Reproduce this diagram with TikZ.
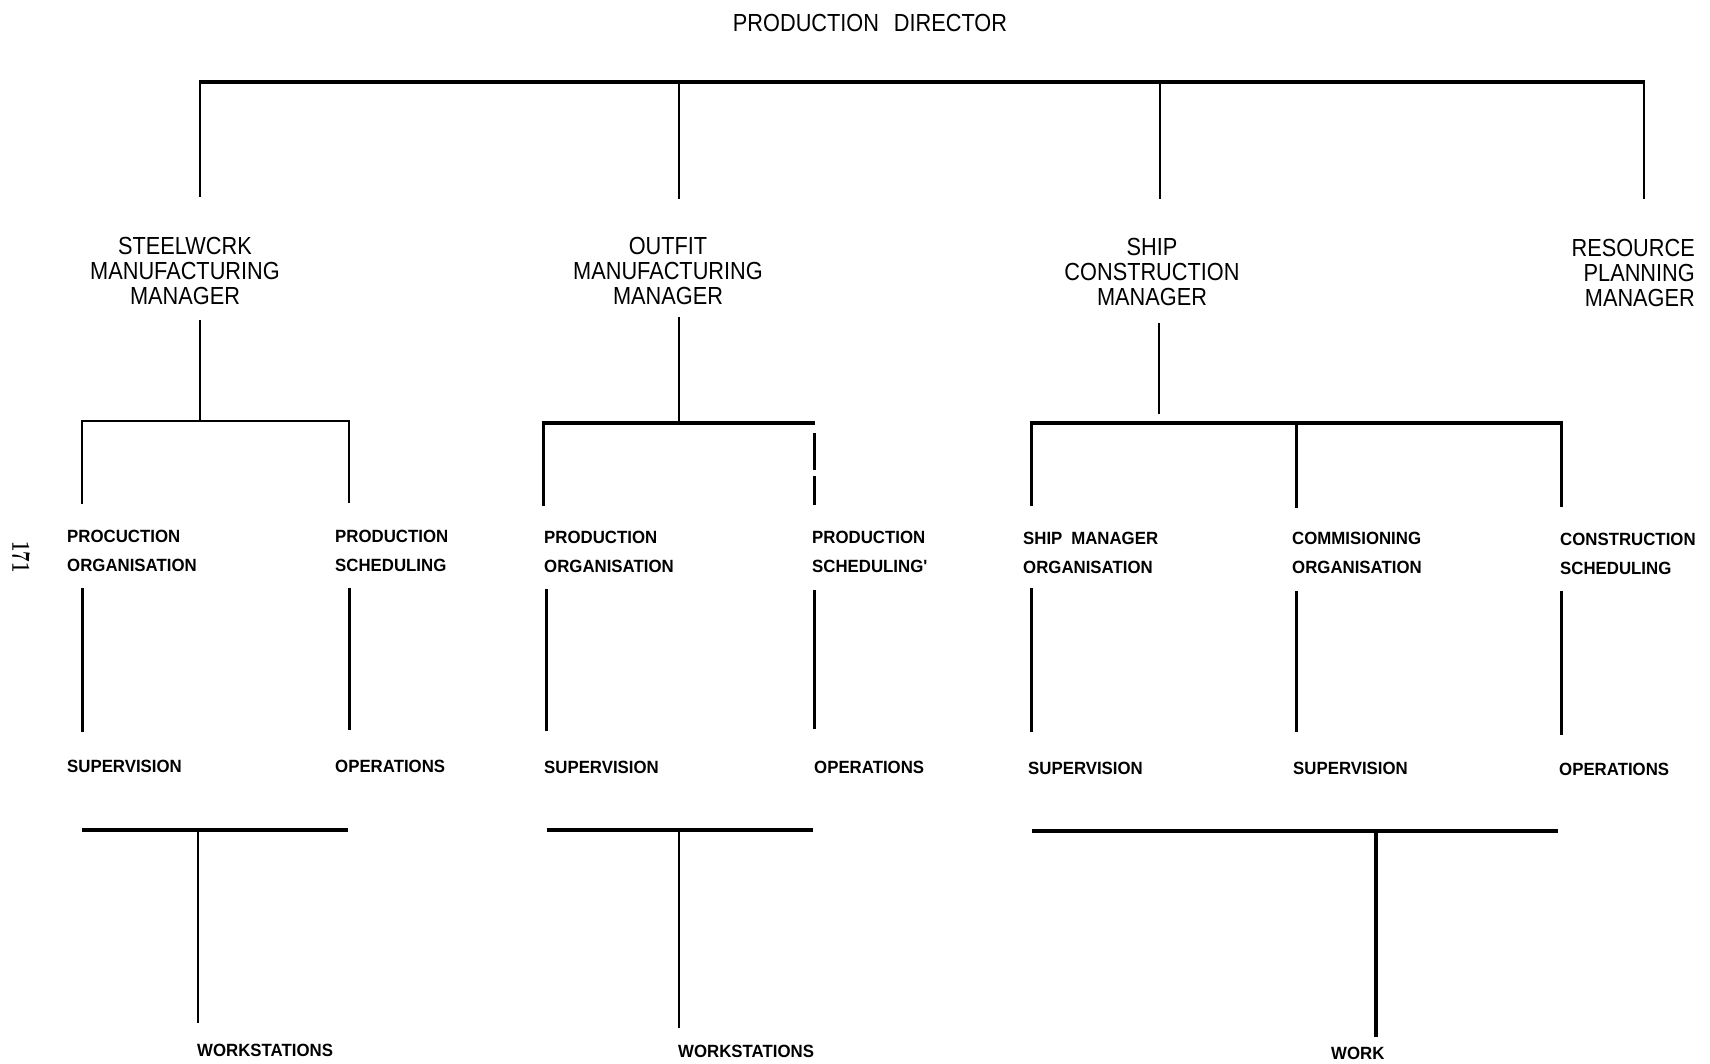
\documentclass[tikz,border=0pt]{standalone}
\usepackage{fontspec}
\newfontfamily\bigfont[FakeStretch=0.88]{Liberation Sans}
\newfontfamily\smallfont[FakeStretch=0.95]{Liberation Sans}
\begin{document}
\begin{tikzpicture}[x=1pt,y=-1pt,
  big/.style={font=\bigfont\fontsize{24.7}{25}\selectfont, inner sep=0pt, align=center},
  lbl/.style={font=\smallfont\bfseries\fontsize{17.7}{29}\selectfont, inner sep=0pt, anchor=north west, align=left},
  thinline/.style={line width=2pt},
  midline/.style={line width=3pt},
  thickline/.style={line width=4.5pt},
]
\useasboundingbox (0,0) rectangle (1710,1064);

% page number
\node[font=\bfseries\fontsize{26}{26}\selectfont, rotate=-90, inner sep=0pt] (pg) at (21,557) {\scalebox{0.72}[1]{171}};

% title
\node[big] (pd) at (870,23) {PRODUCTION\hspace{0.6em}DIRECTOR};

% managers
\node[big, anchor=north] (sw) at (185,237) {STEELWCRK\\MANUFACTURING\\MANAGER};
\node[big, anchor=north] (om) at (668,237) {OUTFIT\\MANUFACTURING\\MANAGER};
\node[big, anchor=north] (sc) at (1152,238) {SHIP\\CONSTRUCTION\\MANAGER};
\node[big, anchor=north east, align=right] (rp) at (1695,239) {RESOURCE\\PLANNING\\MANAGER};

% top bar
\coordinate (t1) at (200,82);
\coordinate (t2) at (679,82);
\coordinate (t3) at (1160,82);
\coordinate (t4) at (1644,82);
\coordinate (e1) at (200,197);
\coordinate (e2) at (679,199);
\coordinate (e3) at (1160,199);
\coordinate (e4) at (1644,199);
\draw[thickline] ([xshift=-1pt]t1) -- ([xshift=1pt]t4);
\draw[thinline] (t1) -- (e1);
\draw[thinline] (t2) -- (e2);
\draw[thinline] (t3) -- (e3);
\draw[thinline] (t4) -- (e4);

% ---------------- steelwork group
\coordinate (swd) at (200,320);
\coordinate (swb) at (200,421);
\coordinate (swbl) at (82,421);
\coordinate (swbr) at (349,421);
\draw[thinline] (swd) -- (swb);
\draw[thinline] ([xshift=-1pt]swbl) -- ([xshift=1pt]swbr);
\node[lbl] (sw1) at (67,530) {PROCUCTION\\ORGANISATION};
\node[lbl] (sw2) at (335,530) {PRODUCTION\\SCHEDULING};
\coordinate (sw1t) at (82,504);
\coordinate (sw2t) at (349,503);
\draw[thinline] (swbl) -- (sw1t);
\draw[thinline] (swbr) -- (sw2t);
\node[lbl] (sw3) at (67,760) {SUPERVISION};
\node[lbl] (sw4) at (335,760) {OPERATIONS};
\coordinate (sw1b) at (82,588);
\coordinate (sw1e) at (82,732);
\coordinate (sw2b) at (349,588);
\coordinate (sw2e) at (349,730);
\draw[midline] (sw1b) -- (sw1e);
\draw[midline] (sw2b) -- (sw2e);
\coordinate (swl) at (82,830);
\coordinate (swr) at (348,830);
\coordinate (swm) at (198,830);
\coordinate (swme) at (198,1023);
\draw[thickline] (swl) -- (swr);
\draw[thinline] (swm) -- (swme);
\node[lbl] (sw5) at (197,1044) {WORKSTATIONS};

% ---------------- outfit group
\coordinate (omd) at (679,317);
\coordinate (omb) at (679,423);
\coordinate (ombl) at (543,423);
\coordinate (ombr) at (815,423);
\draw[thinline] (omd) -- (omb);
\draw[thickline] ([xshift=-1.5pt]ombl) -- (ombr);
\node[lbl] (om1) at (544,531) {PRODUCTION\\ORGANISATION};
\node[lbl] (om2) at (812,531) {PRODUCTION\\SCHEDULING'};
\coordinate (om1t) at (543,506);
\coordinate (om2s) at (814,433);
\coordinate (om2g) at (814,470);
\coordinate (om2h) at (814,476);
\coordinate (om2t) at (814,505);
\draw[midline] (ombl) -- (om1t);
\draw[midline] (om2s) -- (om2g);
\draw[midline] (om2h) -- (om2t);
\node[lbl] (om3) at (544,761) {SUPERVISION};
\node[lbl] (om4) at (814,761) {OPERATIONS};
\coordinate (om1b) at (546,589);
\coordinate (om1e) at (546,731);
\coordinate (om2b) at (814,590);
\coordinate (om2e) at (814,729);
\draw[midline] (om1b) -- (om1e);
\draw[midline] (om2b) -- (om2e);
\coordinate (oml) at (547,830);
\coordinate (omr) at (813,830);
\coordinate (omm) at (679,830);
\coordinate (omme) at (679,1028);
\draw[thickline] (oml) -- (omr);
\draw[thinline] (omm) -- (omme);
\node[lbl] (om5) at (678,1045) {WORKSTATIONS};

% ---------------- ship construction group
\coordinate (scd) at (1159,323);
\coordinate (scb) at (1159,414);
\coordinate (scbl) at (1031,423);
\coordinate (scbm) at (1296,423);
\coordinate (scbr) at (1561,423);
\draw[thinline] (scd) -- (scb);
\draw[thickline] ([xshift=-1.5pt]scbl) -- ([xshift=1.5pt]scbr);
\node[lbl] (sc1) at (1023,532) {SHIP\hspace{0.5em}MANAGER\\ORGANISATION};
\node[lbl] (sc2) at (1292,532) {COMMISIONING\\ORGANISATION};
\node[lbl] (sc3) at (1560,533) {CONSTRUCTION\\SCHEDULING};
\coordinate (sc1t) at (1031,506);
\coordinate (sc2t) at (1296,508);
\coordinate (sc3t) at (1561,507);
\draw[midline] (scbl) -- (sc1t);
\draw[midline] (scbm) -- (sc2t);
\draw[midline] (scbr) -- (sc3t);
\node[lbl] (sc4) at (1028,762) {SUPERVISION};
\node[lbl] (sc5) at (1293,762) {SUPERVISION};
\node[lbl] (sc6) at (1559,763) {OPERATIONS};
\coordinate (sc1b) at (1031,588);
\coordinate (sc1e) at (1031,732);
\coordinate (sc2b) at (1296,591);
\coordinate (sc2e) at (1296,732);
\coordinate (sc3b) at (1561,591);
\coordinate (sc3e) at (1561,735);
\draw[midline] (sc1b) -- (sc1e);
\draw[midline] (sc2b) -- (sc2e);
\draw[midline] (sc3b) -- (sc3e);
\coordinate (scl) at (1032,831);
\coordinate (scr) at (1558,831);
\coordinate (scm) at (1376,831);
\coordinate (scme) at (1376,1037);
\draw[thickline] (scl) -- (scr);
\draw[line width=3.5pt] (scm) -- (scme);
\node[lbl] (sc7) at (1331,1047) {WORK};
\end{tikzpicture}
\end{document}
